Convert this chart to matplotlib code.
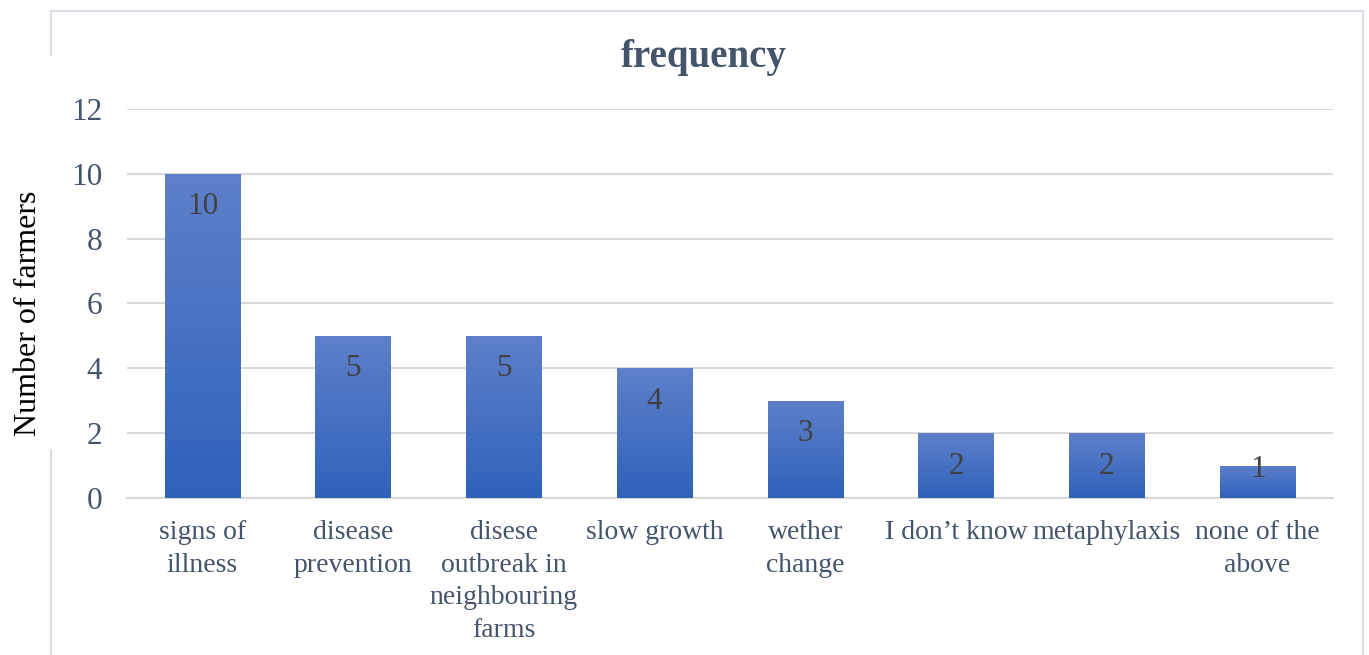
import numpy as np
import matplotlib.pyplot as plt
from matplotlib.lines import Line2D
from matplotlib.colors import LinearSegmentedColormap

# data
kategoriat = ["signs of\nillness", "disease\nprevention",
              "disese\noutbreak in\nneighbouring\nfarms", "slow growth",
              "wether\nchange", "I don\u2019t know", "metaphylaxis",
              "none of the\nabove"]
arvot = [10, 5, 5, 4, 3, 2, 2, 1]

plt.rcParams['font.family'] = ['Liberation Serif', 'DejaVu Serif']
teksti = "#44546A"
ruudukko = "#D9D9D9"

fig = plt.figure(figsize=(13.69, 6.55), dpi=100)
ax = fig.add_axes([0.0928, 0.2397, 0.8809, 0.5939])

x = np.arange(len(arvot))
palkit = ax.bar(x, arvot, width=0.5, color="none", edgecolor="none", zorder=3)

# liukuvarjostus palkkeihin
cmap = LinearSegmentedColormap.from_list("g", ["#2F62BB", "#5E80CA"])
grad = np.linspace(0, 1, 256).reshape(-1, 1)
for p in palkit:
    x0, y0 = p.get_x(), p.get_y()
    w, h = p.get_width(), p.get_height()
    im = ax.imshow(grad, cmap=cmap, origin="lower", aspect="auto",
                   extent=[x0, x0 + w, y0, y0 + h], zorder=3)
    im.set_clip_path(p)

# arvot palkin sisään, mutta ei akselin alle
for xi, v in zip(x, arvot):
    ax.text(xi, max(v - 1.02, 0.87), str(v), ha="center", va="center",
            fontsize=22.5, color="#404040", zorder=4)

ax.set_xlim(-0.5, len(arvot) - 0.5)
ax.set_ylim(0, 12)
ax.set_yticks(range(0, 13, 2))
ax.yaxis.grid(True, color=ruudukko, lw=1.5, zorder=0)
ax.set_axisbelow(True)
for s in ["top", "right", "left"]:
    ax.spines[s].set_visible(False)
ax.spines["bottom"].set_color(ruudukko)
ax.spines["bottom"].set_linewidth(1.5)

ax.set_xticks(x)
ax.set_xticklabels(kategoriat, fontsize=20, color=teksti, linespacing=1.4)
ax.tick_params(axis="y", length=0, pad=18, labelsize=22.5, labelcolor=teksti)
ax.tick_params(axis="x", length=0, pad=16)

ax.set_ylabel("Number of farmers", fontsize=23, color="black")
ax.yaxis.set_label_coords(-0.070, 0.475)

fig.text(0.514, 0.912, "frequency", fontsize=28, fontweight="bold",
         color=teksti, ha="center", va="center")

# kehys
reuna = "#D9DDE5"
fig.add_artist(Line2D([51/1369, 1363/1369], [1 - 11/655, 1 - 11/655],
                      color=reuna, lw=1.5, transform=fig.transFigure))
fig.add_artist(Line2D([1363/1369, 1363/1369], [0, 1 - 11/655],
                      color=reuna, lw=1.5, transform=fig.transFigure))
fig.add_artist(Line2D([51/1369, 51/1369], [1 - 11/655, 1 - 55/655],
                      color=reuna, lw=1.5, transform=fig.transFigure))
fig.add_artist(Line2D([51/1369, 51/1369], [0, 1 - 450/655],
                      color=reuna, lw=1.5, transform=fig.transFigure))

fig.savefig("out.png", dpi=100)
